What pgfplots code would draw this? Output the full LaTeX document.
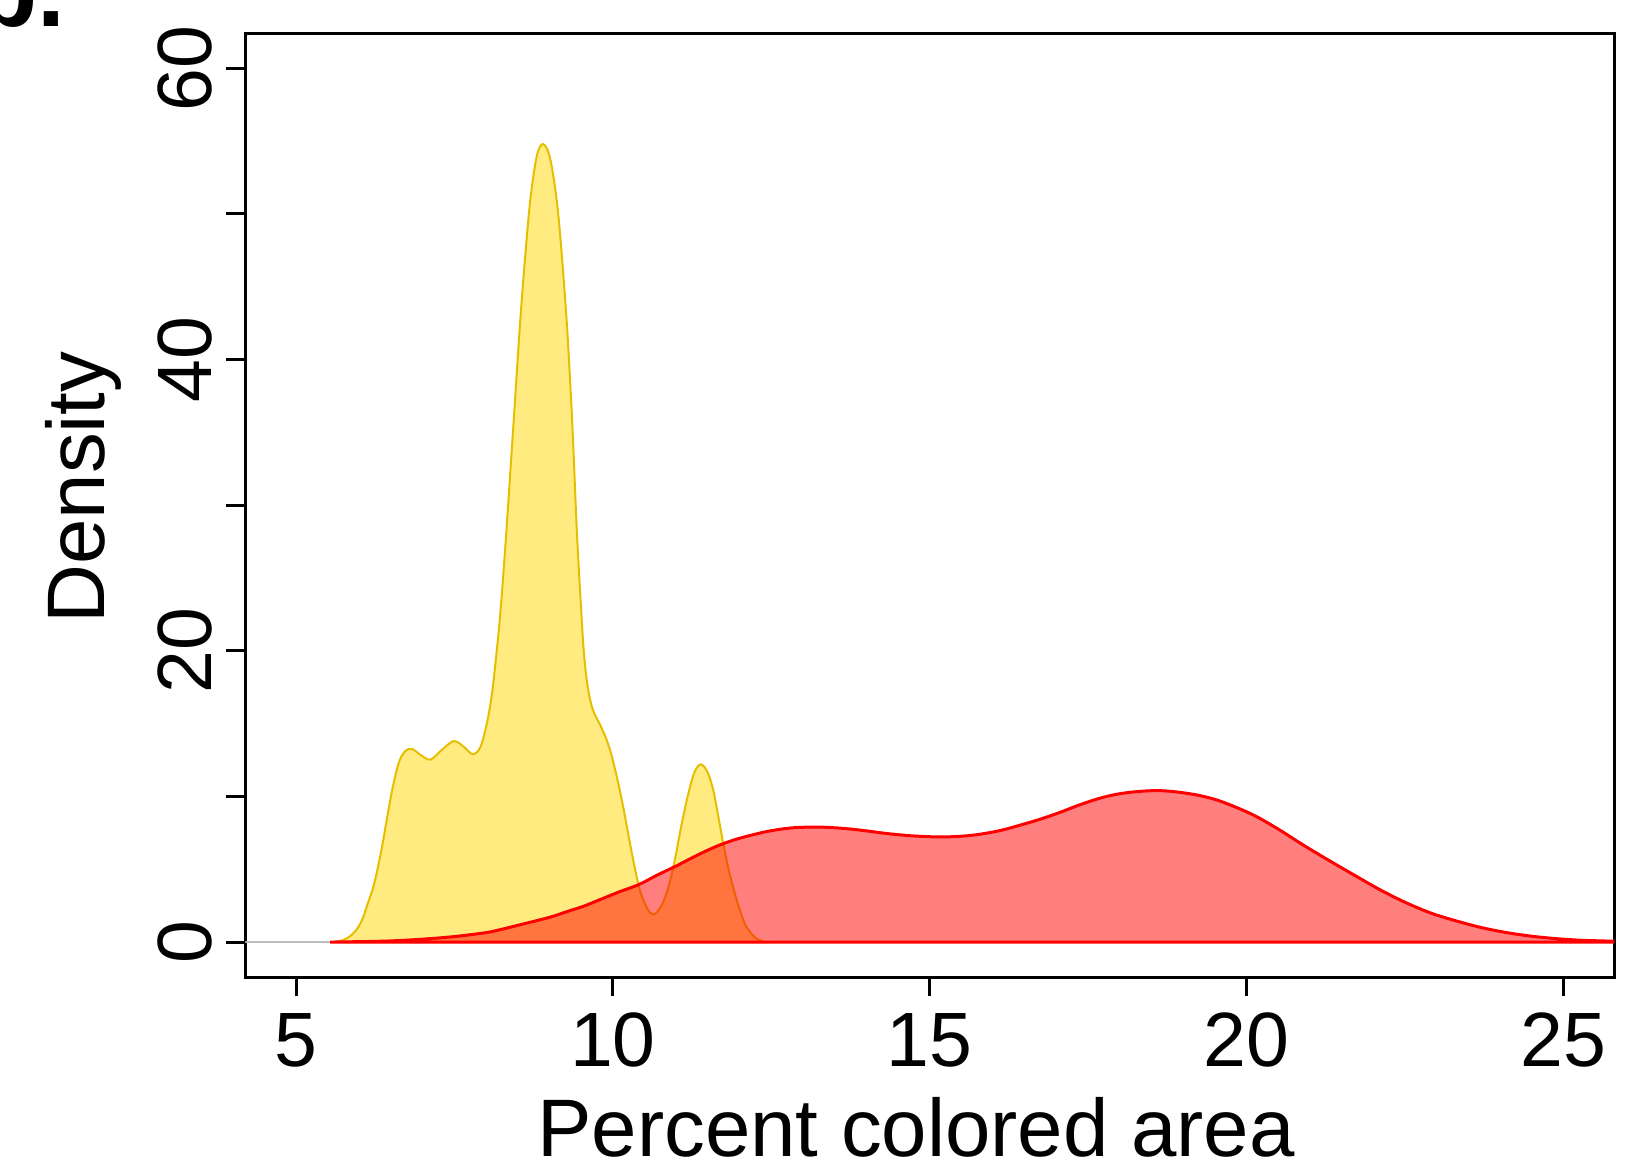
\documentclass[border=0pt]{standalone}
\usepackage{fontspec}
\setmainfont{Liberation Sans}
\usepackage{pgfplots}
\pgfplotsset{compat=1.18}
\definecolor{ygold}{RGB}{255,215,0}
\definecolor{yline}{RGB}{230,190,0}
\definecolor{zgray}{RGB}{190,190,190}
\begin{document}
\begin{tikzpicture}
\begin{axis}[
  at={(0,0)}, anchor=south west,
  scale only axis,
  width=342.25pt, height=235.9pt,
  xmin=4.2, xmax=25.8, ymin=-2.4, ymax=62.4,
  xtick={5,10,15,20,25}, xticklabels={5,10,15,20,25},
  ytick={0,10,20,30,40,50,60}, yticklabels={0,{},20,{},40,{},60},
  /pgf/number format/assume math mode=true,
  tick align=outside, xtick pos=bottom, ytick pos=left,
  major tick length=4.75pt,
  tick style={line width=0.75pt, black},
  axis line style={line width=0.75pt},
  ticklabel style={font=\fontsize{19.25}{23}\selectfont},
  xticklabel style={anchor=base, inner sep=0pt},
  xticklabel shift=17.5pt,
  yticklabel style={rotate=90, anchor=south, inner sep=0pt},
  yticklabel shift=3.35pt,
  every axis x label/.style={at={(axis description cs:0.49,-0.1897)}, anchor=base, inner sep=0pt, font=\fontsize{20.4}{24}\selectfont},
  every axis y label/.style={at={(axis description cs:-0.1026,0.5187)}, rotate=90, anchor=base, inner sep=0pt, font=\fontsize{20.4}{24}\selectfont},
  xlabel={Percent colored area},
  ylabel={Density},
]
\addplot[zgray, line width=0.4pt] coordinates {(4.2,0) (25.8,0)};
\addplot[draw=yline, line width=0.5pt, fill=ygold, fill opacity=0.5, smooth, tension=0.55] table {
5.55 0.00
5.65 0.03
5.75 0.15
5.85 0.40
5.96 0.88
6.05 1.6
6.12 2.5
6.20 3.5
6.25 4.3
6.30 5.3
6.36 6.6
6.44 8.6
6.52 10.5
6.62 12.3
6.72 13.1
6.83 13.26
6.96 12.87
7.12 12.53
7.30 13.2
7.49 13.8
7.65 13.4
7.79 12.9
7.91 13.4
8.01 15.0
8.09 17.0
8.15 19.3
8.22 22.4
8.30 27.0
8.38 32.2
8.46 37.5
8.54 42.8
8.62 47.3
8.70 51.1
8.80 54.0
8.90 54.8
9.01 53.8
9.12 50.7
9.20 46.8
9.28 42.0
9.36 35.5
9.43 28.3
9.49 23.5
9.54 20.0
9.60 17.6
9.68 16.0
9.80 14.9
9.90 13.9
9.98 12.8
10.08 11.0
10.17 9.1
10.26 7.0
10.35 5.0
10.43 3.5
10.50 2.7
10.57 2.1
10.65 1.9
10.72 2.2
10.80 2.8
10.89 4.0
10.98 5.7
11.08 8.0
11.19 10.2
11.29 11.7
11.39 12.2
11.49 11.7
11.58 10.5
11.66 8.7
11.74 6.8
11.83 4.9
11.92 3.4
12.01 2.1
12.10 1.1
12.20 0.5
12.30 0.15
12.40 0.00
} \closedcycle;
\addplot[draw=red, line width=0.75pt, fill=red, fill opacity=0.5, smooth, tension=0.55] table {
5.54 0.00
6.00 0.03
6.50 0.08
7.00 0.20
7.50 0.38
8.00 0.65
8.22 0.85
8.50 1.15
9.00 1.70
9.28 2.10
9.53 2.45
9.80 2.92
10.10 3.45
10.41 3.95
10.70 4.60
11.01 5.25
11.30 5.90
11.61 6.53
11.90 7.00
12.22 7.38
12.50 7.65
12.82 7.84
13.18 7.90
13.45 7.86
13.73 7.77
14.03 7.62
14.33 7.45
14.70 7.30
15.12 7.22
15.42 7.25
15.72 7.36
16.10 7.65
16.45 8.06
16.75 8.45
17.05 8.90
17.35 9.40
17.66 9.85
17.95 10.15
18.26 10.33
18.62 10.40
18.95 10.28
19.27 10.05
19.60 9.65
20.09 8.76
20.50 7.75
20.89 6.67
21.30 5.60
21.70 4.59
22.10 3.60
22.50 2.73
22.90 2.00
23.30 1.46
23.70 1.00
24.10 0.65
24.50 0.40
24.90 0.23
25.30 0.12
25.80 0.06
26.30 0.02
} \closedcycle;
\end{axis}
\node[anchor=base east, inner sep=0pt, font=\bfseries\fontsize{25}{30}\selectfont] at (-44.83pt,237.75pt) {b.};
\pgfresetboundingbox
\useasboundingbox (-61.33pt,-48.75pt) rectangle (346.17pt,244.25pt);
\end{tikzpicture}
\end{document}
